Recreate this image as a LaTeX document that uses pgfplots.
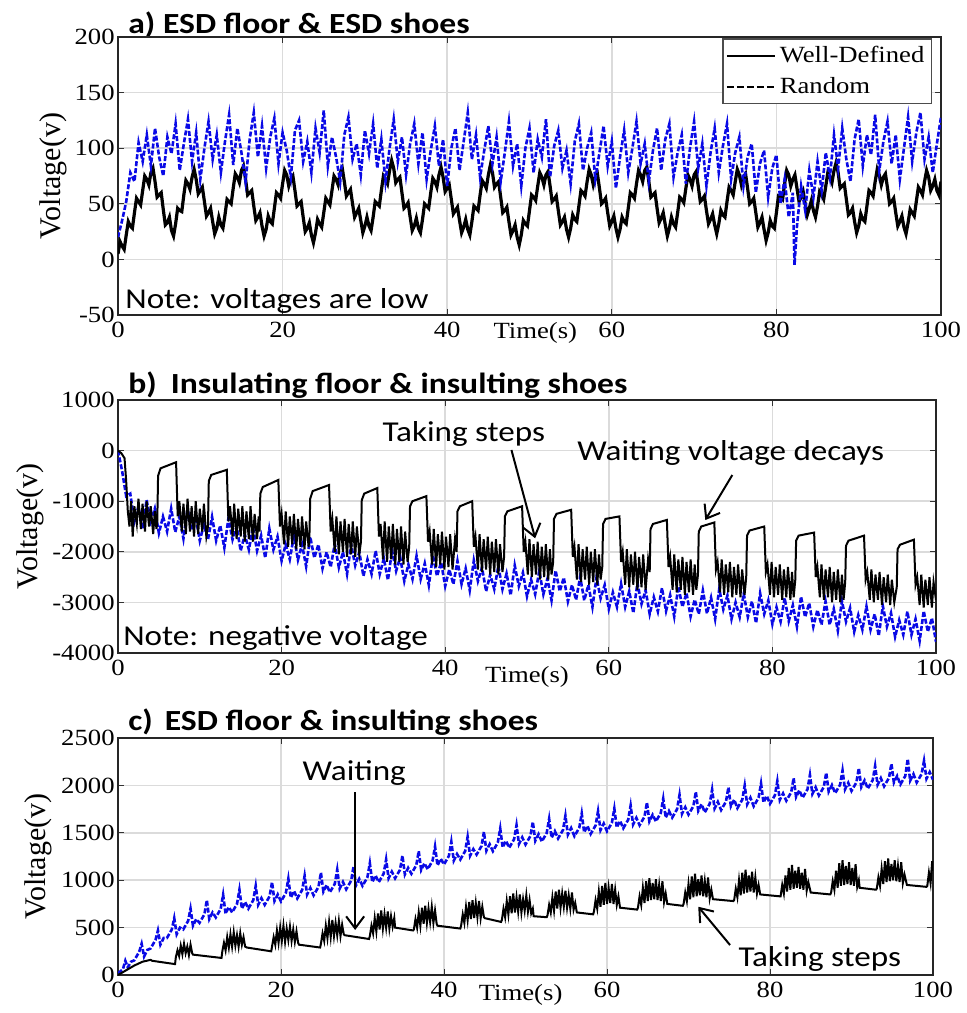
\documentclass[border=0pt]{standalone}
\usepackage{fontspec}
\setmainfont{Liberation Serif}[FakeStretch=1.15]
\newfontfamily\ylfont{Liberation Serif}
\newfontfamily\calfont{Carlito}[FakeStretch=1.15]
\usepackage{pgfplots}
\pgfplotsset{compat=1.18}
\usetikzlibrary{arrows.meta}
\definecolor{mblue}{RGB}{10,10,230}
\pgfplotsset{
  panel/.style={
    scale only axis,
    xmin=0, xmax=100, xtick={0,20,...,100},
    grid=major, grid style={gray!28, line width=0.8pt},
    axis line style={line width=0.7pt, gray!30!black},
    tick align=inside, major tick length=3pt,
    tick style={gray!40!black, line width=0.5pt},
    tick label style={font=\fontsize{11.6}{12}\selectfont},
    yticklabel style={inner xsep=1.5pt},
    /pgf/number format/assume math mode=true,
    /pgf/number format/1000 sep={},
    xlabel={Time(s)},
    xlabel style={font=\fontsize{11.6}{12}\selectfont},
    ylabel={Voltage(v)},
    ylabel style={font=\ylfont\fontsize{15}{15}\selectfont},
  },
}
\tikzset{
  annot/.style={font=\calfont\fontsize{14.4}{15}\selectfont, inner sep=0pt, anchor=base west},
  arr/.style={-{Straight Barb[length=6pt,width=9pt]}, line width=1pt, black},
}
\begin{document}
\begin{tikzpicture}
\useasboundingbox (0,0) rectangle (483.5pt,-506.5pt);
% titles
\node[font=\calfont\bfseries\fontsize{14.6}{15}\selectfont, inner sep=0pt, anchor=base west] at (64pt,-16.5pt) {a) ESD floor \& ESD shoes};
\node[font=\calfont\bfseries\fontsize{14.6}{15}\selectfont, inner sep=0pt, anchor=base west] at (64pt,-196.5pt) {b)\hspace{7pt}Insulating floor \& insulting shoes};
\node[font=\calfont\bfseries\fontsize{14.6}{15}\selectfont, inner sep=0pt, anchor=base west] at (64pt,-365pt) {c)\hspace{6pt}ESD floor \& insulting shoes};

% ---------------- panel a ----------------
\begin{axis}[panel, at={(59pt,-18.5pt)}, anchor=north west,
  width=411.5pt, height=139pt,
  ymin=-50, ymax=200, ytick={-50,0,...,200},
  xlabel style={at={(rel axis cs:0.507,0)}, anchor=center, yshift=-9pt},
  ylabel style={at={(rel axis cs:0,0.5)}, anchor=center, yshift=32.5pt},
  legend style={at={(rel axis cs:0.989,0.995)}, anchor=north east, draw=gray!60!black, line width=0.6pt, fill=white, font=\fontsize{11.6}{13}\selectfont, inner sep=1.5pt, row sep=2pt, cells={anchor=west}},
  legend image code/.code={\draw[#1, line width=0.9pt] (0pt,0pt) -- (24pt,0pt);},
]
\addplot[black, line width=1.6pt, forget plot] coordinates {
(0,5)(0.25,16)(0.5,12)(0.75,9)(1,22)(1.25,34)(1.5,30)(1.75,28)(2,42)(2.25,55)(2.5,52)(2.75,49)(3,62)(3.25,75)(3.5,72)(3.75,67)(4,78)(4.25,82)(4.5,70)(4.75,56)(5,58)(5.25,60)(5.5,45)(5.75,31)(6,33)(6.25,38)(6.5,26)(6.75,21)(7,32)(7.25,46)(7.5,44)(7.75,43)(8,58)(8.25,71)(8.5,68)(8.75,63)(9,74)(9.25,81)(9.5,72)(9.75,59)(10,62)(10.25,65)(10.5,52)(10.75,39)(11,42)(11.25,46)(11.5,34)(11.75,23)(12,28)(12.25,38)(12.5,31)(12.75,28)(13,40)(13.25,54)(13.5,52)(13.75,50)(14,64)(14.25,77)(14.5,74)(14.75,69)(15,80)(15.25,84)(15.5,72)(15.75,58)(16,60)(16.25,62)(16.5,48)(16.75,35)(17,38)(17.25,42)(17.5,30)(17.75,21)(18,27)(18.25,39)(18.5,34)(18.75,32)(19,46)(19.25,60)(19.5,58)(19.75,55)(20,68)(20.25,80)(20.5,76)(20.75,66)(21,72)(21.25,75)(21.5,62)(21.75,48)(22,50)(22.25,52)(22.5,38)(22.75,25)(23,28)(23.25,33)(23.5,22)(23.75,15)(24,24)(24.25,36)(24.5,32)(24.75,29)(25,42)(25.25,55)(25.5,52)(25.75,49)(26,62)(26.25,75)(26.5,72)(26.75,67)(27,78)(27.25,82)(27.5,70)(27.75,57)(28,60)(28.25,63)(28.5,50)(28.75,38)(29,42)(29.25,46)(29.5,35)(29.75,24)(30,30)(30.25,38)(30.5,30)(30.75,26)(31,38)(31.25,52)(31.5,50)(31.75,48)(32,62)(32.25,75)(32.5,72)(32.75,68)(33,80)(33.25,89)(33.5,82)(33.75,69)(34,72)(34.25,74)(34.5,60)(34.75,46)(35,48)(35.25,51)(35.5,38)(35.75,26)(36,30)(36.25,37)(36.5,28)(36.75,24)(37,36)(37.25,50)(37.5,48)(37.75,46)(38,60)(38.25,73)(38.5,70)(38.75,65)(39,76)(39.25,83)(39.5,74)(39.75,61)(40,64)(40.25,67)(40.5,54)(40.75,41)(41,44)(41.25,47)(41.5,35)(41.75,24)(42,29)(42.25,36)(42.5,27)(42.75,22)(43,34)(43.25,48)(43.5,46)(43.75,44)(44,58)(44.25,71)(44.5,68)(44.75,64)(45,76)(45.25,85)(45.5,78)(45.75,65)(46,68)(46.25,70)(46.5,56)(46.75,42)(47,44)(47.25,47)(47.5,34)(47.75,22)(48,26)(48.25,31)(48.5,20)(48.75,13)(49,22)(49.25,35)(49.5,32)(49.75,30)(50,44)(50.25,58)(50.5,56)(50.75,53)(51,66)(51.25,78)(51.5,74)(51.75,67)(52,76)(52.25,79)(52.5,66)(52.75,52)(53,54)(53.25,57)(53.5,44)(53.75,31)(54,34)(54.25,38)(54.5,27)(54.75,20)(55,28)(55.25,40)(55.5,36)(55.75,34)(56,48)(56.25,62)(56.5,60)(56.75,57)(57,70)(57.25,81)(57.5,76)(57.75,67)(58,74)(58.25,77)(58.5,64)(58.75,50)(59,52)(59.25,55)(59.5,42)(59.75,30)(60,34)(60.25,39)(60.5,28)(60.75,20)(61,27)(61.25,38)(61.5,34)(61.75,32)(62,46)(62.25,60)(62.5,58)(62.75,55)(63,68)(63.25,80)(63.5,76)(63.75,70)(64,80)(64.25,83)(64.5,70)(64.75,56)(65,58)(65.25,60)(65.5,46)(65.75,33)(66,37)(66.25,42)(66.5,31)(66.75,21)(67,28)(67.25,38)(67.5,32)(67.75,29)(68,42)(68.25,56)(68.5,54)(68.75,51)(69,64)(69.25,76)(69.5,72)(69.75,66)(70,76)(70.25,79)(70.5,66)(70.75,52)(71,54)(71.25,57)(71.5,44)(71.75,32)(72,36)(72.25,41)(72.5,31)(72.75,23)(73,32)(73.25,44)(73.5,40)(73.75,38)(74,52)(74.25,65)(74.5,62)(74.75,58)(75,70)(75.25,81)(75.5,76)(75.75,67)(76,74)(76.25,77)(76.5,64)(76.75,50)(77,52)(77.25,55)(77.5,42)(77.75,29)(78,33)(78.25,38)(78.5,27)(78.75,17)(79,24)(79.25,35)(79.5,30)(79.75,28)(80,42)(80.25,57)(80.5,56)(80.75,54)(81,68)(81.25,80)(81.5,76)(81.75,66)(82,72)(82.25,76)(82.5,64)(82.75,52)(83,56)(83.25,61)(83.5,50)(83.75,40)(84,46)(84.25,53)(84.5,44)(84.75,38)(85,48)(85.25,61)(85.5,58)(85.75,54)(86,66)(86.25,78)(86.5,74)(86.75,69)(87,80)(87.25,87)(87.5,78)(87.75,64)(88,66)(88.25,68)(88.5,54)(88.75,40)(89,42)(89.25,46)(89.5,34)(89.75,24)(90,30)(90.25,41)(90.5,36)(90.75,34)(91,48)(91.25,62)(91.5,60)(91.75,57)(92,70)(92.25,81)(92.5,76)(92.75,67)(93,74)(93.25,77)(93.5,64)(93.75,50)(94,52)(94.25,55)(94.5,42)(94.75,30)(95,34)(95.25,39)(95.5,29)(95.75,23)(96,33)(96.25,45)(96.5,42)(96.75,39)(97,52)(97.25,65)(97.5,62)(97.75,58)(98,70)(98.25,80)(98.5,74)(98.75,62)(99,66)(99.25,72)(99.5,62)(99.75,58)(100,70)
};
\addplot[mblue, line width=1.3pt, dash pattern=on 2.5pt off 1pt, forget plot] coordinates {
(0,20)(0.5,35)(1,52)(1.5,78)(2,70)(2.5,105)(3,88)(3.5,112)(4,84)(4.5,118)(5,92)(5.5,75)(6,110)(6.5,95)(7,122)(7.5,80)(8,104)(8.5,126)(9,88)(9.5,114)(10,72)(10.5,100)(11,124)(11.5,90)(12,112)(12.5,78)(13,106)(13.5,130)(14,85)(14.5,118)(15,96)(15.5,70)(16,108)(16.5,132)(17,92)(17.5,120)(18,82)(18.5,110)(19,127)(19.5,86)(20,114)(20.5,98)(21,74)(21.5,116)(22,125)(22.5,88)(23,106)(23.5,78)(24,118)(24.5,96)(25,134)(25.5,84)(26,110)(26.5,92)(27,70)(27.5,112)(28,128)(28.5,90)(29,104)(29.5,76)(30,116)(30.5,95)(31,122)(31.5,82)(32,108)(32.5,70)(33,100)(33.5,126)(34,88)(34.5,110)(35,76)(35.5,104)(36,122)(36.5,86)(37,114)(37.5,72)(38,98)(38.5,120)(39,84)(39.5,108)(40,66)(40.5,100)(41,118)(41.5,80)(42,106)(42.5,132)(43,90)(43.5,112)(44,74)(44.5,98)(45,120)(45.5,86)(46,110)(46.5,70)(47,96)(47.5,124)(48,84)(48.5,104)(49,66)(49.5,100)(50,118)(50.5,78)(51,108)(51.5,92)(52,126)(52.5,74)(53,102)(53.5,116)(54,82)(54.5,98)(55,68)(55.5,106)(56,122)(56.5,80)(57,100)(57.5,114)(58,72)(58.5,96)(59,120)(59.5,84)(60,106)(60.5,64)(61,92)(61.5,116)(62,78)(62.5,100)(63,124)(63.5,86)(64,104)(64.5,70)(65,98)(65.5,118)(66,80)(66.5,108)(67,122)(67.5,74)(68,96)(68.5,112)(69,68)(69.5,100)(70,124)(70.5,82)(71,104)(71.5,66)(72,96)(72.5,118)(73,78)(73.5,102)(74,122)(74.5,72)(75,96)(75.5,110)(76,66)(76.5,92)(77,104)(77.5,60)(78,86)(78.5,98)(79,56)(79.5,82)(80,94)(80.5,50)(81,72)(81.5,38)(82,60)(82.2,-5)(82.5,30)(83,66)(83.5,44)(84,80)(84.5,56)(85,88)(85.5,62)(86,96)(86.5,74)(87,112)(87.5,82)(88,118)(88.5,90)(89,70)(89.5,108)(90,126)(90.5,84)(91,112)(91.5,94)(92,130)(92.5,80)(93,106)(93.5,124)(94,86)(94.5,112)(95,72)(95.5,100)(96,128)(96.5,88)(97,114)(97.5,132)(98,90)(98.5,110)(99,78)(99.5,104)(100,128)
};
\addlegendimage{black, solid}
\addlegendentry{Well-Defined}
\addlegendimage{black, dash pattern=on 3.5pt off 1.5pt}
\addlegendentry{Random}
\node[annot] at (axis cs:0.85,-43.7) {Note: voltages are low};
\end{axis}

% ---------------- panel b ----------------
\begin{axis}[panel, at={(59pt,-200pt)}, anchor=north west,
  width=409pt, height=126.5pt,
  ymin=-4000, ymax=1000, ytick={-4000,-3000,...,1000},
  xlabel style={at={(rel axis cs:0.5,0)}, anchor=center, yshift=-12pt},
  ylabel style={at={(rel axis cs:0,0.5)}, anchor=center, yshift=44pt},
]
\addplot[mblue, line width=1.3pt, dash pattern=on 2.5pt off 1pt] coordinates {
(0,0)(0.5,-400)(1,-900)(1.5,-850)(2,-1400)(2.5,-1105)(3,-1550)(3.5,-975)(4,-1400)(4.5,-1145)(5,-1630)(5.5,-1305)(6,-1600)(6.5,-1145)(7,-1610)(7.5,-1305)(8,-1740)(8.5,-1155)(9,-1570)(9.5,-1305)(10,-1780)(10.5,-1460)(11,-1760)(11.5,-1310)(12,-1780)(12.5,-1480)(13,-1920)(13.5,-1340)(14,-1760)(14.5,-1500)(15,-1980)(15.5,-1660)(16,-1960)(16.5,-1510)(17,-1980)(17.5,-1680)(18,-2120)(18.5,-1540)(19,-1960)(19.5,-1700)(20,-2180)(20.5,-1855)(21,-2150)(21.5,-1695)(22,-2160)(22.5,-1855)(23,-2290)(23.5,-1705)(24,-2120)(24.5,-1855)(25,-2330)(25.5,-2005)(26,-2300)(26.5,-1845)(27,-2310)(27.5,-2005)(28,-2440)(28.5,-1855)(29,-2270)(29.5,-2005)(30,-2480)(30.5,-2150)(31,-2440)(31.5,-1980)(32,-2440)(32.5,-2130)(33,-2560)(33.5,-1970)(34,-2380)(34.5,-2110)(35,-2580)(35.5,-2250)(36,-2540)(36.5,-2080)(37,-2540)(37.5,-2230)(38,-2660)(38.5,-2070)(39,-2480)(39.5,-2210)(40,-2680)(40.5,-2350)(41,-2640)(41.5,-2180)(42,-2640)(42.5,-2330)(43,-2760)(43.5,-2170)(44,-2580)(44.5,-2310)(45,-2780)(45.5,-2450)(46,-2740)(46.5,-2280)(47,-2740)(47.5,-2430)(48,-2860)(48.5,-2270)(49,-2680)(49.5,-2410)(50,-2880)(50.5,-2550)(51,-2840)(51.5,-2380)(52,-2840)(52.5,-2530)(53,-2960)(53.5,-2370)(54,-2780)(54.5,-2510)(55,-2980)(55.5,-2655)(56,-2950)(56.5,-2495)(57,-2960)(57.5,-2655)(58,-3090)(58.5,-2505)(59,-2920)(59.5,-2655)(60,-3130)(60.5,-2800)(61,-3090)(61.5,-2630)(62,-3090)(62.5,-2780)(63,-3210)(63.5,-2620)(64,-3030)(64.5,-2760)(65,-3230)(65.5,-2895)(66,-3180)(66.5,-2715)(67,-3170)(67.5,-2855)(68,-3280)(68.5,-2685)(69,-3090)(69.5,-2815)(70,-3280)(70.5,-2945)(71,-3230)(71.5,-2765)(72,-3220)(72.5,-2905)(73,-3330)(73.5,-2735)(74,-3140)(74.5,-2865)(75,-3330)(75.5,-3000)(76,-3290)(76.5,-2830)(77,-3290)(77.5,-2980)(78,-3410)(78.5,-2820)(79,-3230)(79.5,-2960)(80,-3430)(80.5,-3095)(81,-3380)(81.5,-2915)(82,-3370)(82.5,-3055)(83,-3480)(83.5,-2885)(84,-3290)(84.5,-3015)(85,-3480)(85.5,-3150)(86,-3440)(86.5,-2980)(87,-3440)(87.5,-3130)(88,-3560)(88.5,-2970)(89,-3380)(89.5,-3110)(90,-3580)(90.5,-3250)(91,-3540)(91.5,-3080)(92,-3540)(92.5,-3230)(93,-3660)(93.5,-3070)(94,-3480)(94.5,-3210)(95,-3680)(95.5,-3350)(96,-3640)(96.5,-3180)(97,-3640)(97.5,-3330)(98,-3760)(98.5,-3170)(99,-3580)(99.5,-3310)(100,-3780)
};
\addplot[black, line width=1pt] coordinates {
(0,0)(0.4,-50)(0.8,-150)(1.0,-600)(1.2,-1200)(1.4,-1500)(1.6,-1000)(1.8,-1700)(2.0,-1100)(2.3,-1450)(2.5,-950)(2.8,-1550)(3.0,-1050)(3.3,-1600)(3.5,-1000)(3.8,-1500)(4.0,-1100)(4.3,-1650)(4.5,-1200)(4.7,-1550)
(4.8,-1400)(4.9,-500)(5.2,-350)(7.1,-230)(7.3,-1300)
(7.5,-1000)(7.8,-1600)(8.0,-1050)(8.3,-1650)(8.5,-950)(8.8,-1600)(9.0,-1100)(9.3,-1700)(9.5,-1000)(9.8,-1650)(10.0,-1150)(10.3,-1600)(10.5,-1050)(10.8,-1700)
(11.0,-1500)(11.1,-600)(11.4,-480)(13.3,-380)(13.5,-1400)
(13.7,-1100)(14.0,-1700)(14.2,-1050)(14.5,-1750)(14.7,-1150)(15.0,-1700)(15.2,-1100)(15.5,-1800)(15.7,-1200)(16.0,-1750)(16.2,-1100)(16.5,-1800)(16.7,-1250)(17.0,-1750)(17.2,-1300)
(17.3,-1600)(17.4,-850)(17.7,-720)(19.6,-580)(19.8,-1500)
(20.0,-1250)(20.3,-1850)(20.5,-1200)(20.8,-1900)(21.0,-1300)(21.3,-1850)(21.5,-1250)(21.8,-1950)(22.0,-1350)(22.3,-1900)(22.5,-1300)(22.8,-1950)(23.0,-1400)(23.3,-1900)
(23.4,-1700)(23.5,-950)(23.8,-800)(25.8,-680)(26.0,-1600)
(26.2,-1350)(26.5,-2000)(26.7,-1300)(27.0,-2050)(27.2,-1400)(27.5,-2000)(27.7,-1350)(28.0,-2100)(28.2,-1450)(28.5,-2050)(28.7,-1400)(29.0,-2100)(29.2,-1500)(29.5,-2050)
(29.7,-1800)(29.8,-980)(30.1,-850)(31.7,-740)(31.9,-1700)
(32.1,-1450)(32.4,-2150)(32.6,-1400)(32.9,-2200)(33.1,-1500)(33.4,-2150)(33.6,-1450)(33.9,-2250)(34.1,-1550)(34.4,-2200)(34.6,-1500)(34.9,-2250)(35.1,-1600)(35.4,-2200)
(35.6,-1900)(35.7,-1100)(36.0,-1000)(37.7,-900)(37.9,-1800)
(38.1,-1600)(38.4,-2250)(38.6,-1550)(38.9,-2300)(39.1,-1650)(39.4,-2250)(39.6,-1600)(39.9,-2350)(40.1,-1700)(40.4,-2300)(40.6,-1650)(40.9,-2350)(41.2,-1750)
(41.4,-2000)(41.5,-1200)(41.8,-1100)(43.3,-1000)(43.5,-1900)
(43.7,-1700)(44.0,-2350)(44.2,-1650)(44.5,-2400)(44.7,-1750)(45.0,-2350)(45.2,-1700)(45.5,-2450)(45.7,-1800)(46.0,-2400)(46.2,-1750)(46.5,-2450)(46.7,-1850)(47.0,-2400)
(47.2,-2100)(47.3,-1300)(47.6,-1200)(49.4,-1100)(49.6,-2000)
(49.8,-1800)(50.1,-2450)(50.3,-1750)(50.6,-2500)(50.8,-1850)(51.1,-2450)(51.3,-1800)(51.6,-2550)(51.8,-1900)(52.1,-2500)(52.3,-1850)(52.6,-2550)(52.8,-1950)(53.0,-2450)
(53.2,-2200)(53.3,-1350)(53.6,-1250)(55.4,-1170)(55.6,-2100)
(55.8,-1900)(56.1,-2550)(56.3,-1850)(56.6,-2600)(56.8,-1950)(57.1,-2550)(57.3,-1900)(57.6,-2650)(57.8,-2000)(58.1,-2600)(58.3,-1950)(58.6,-2650)(58.8,-2050)(59.0,-2550)
(59.2,-2300)(59.3,-1450)(59.6,-1350)(61.3,-1300)(61.5,-2200)
(61.7,-2000)(62.0,-2650)(62.2,-1950)(62.5,-2700)(62.7,-2050)(63.0,-2650)(63.2,-2000)(63.5,-2750)(63.7,-2100)(64.0,-2700)(64.2,-2050)(64.5,-2750)(64.8,-2150)
(65.0,-2400)(65.1,-1550)(65.4,-1450)(67.1,-1370)(67.3,-2300)
(67.5,-2100)(67.8,-2750)(68.0,-2050)(68.3,-2800)(68.5,-2150)(68.8,-2750)(69.0,-2100)(69.3,-2850)(69.5,-2200)(69.8,-2800)(70.0,-2150)(70.3,-2850)(70.5,-2250)(70.7,-2750)
(70.9,-2450)(71.0,-1600)(71.3,-1500)(72.9,-1420)(73.1,-2350)
(73.3,-2200)(73.6,-2800)(73.8,-2150)(74.1,-2850)(74.3,-2250)(74.6,-2800)(74.8,-2200)(75.1,-2900)(75.3,-2300)(75.6,-2850)(75.8,-2250)(76.1,-2900)(76.3,-2350)(76.6,-2850)
(76.8,-2500)(76.9,-1680)(77.2,-1580)(79.0,-1500)(79.2,-2400)
(79.4,-2250)(79.7,-2850)(79.9,-2200)(80.2,-2900)(80.4,-2300)(80.7,-2850)(80.9,-2250)(81.2,-2950)(81.4,-2350)(81.7,-2900)(81.9,-2300)(82.2,-2950)(82.4,-2400)(82.6,-2900)
(82.8,-2550)(82.9,-1780)(83.2,-1680)(85.1,-1620)(85.3,-2500)
(85.5,-2300)(85.8,-2900)(86.0,-2250)(86.3,-2950)(86.5,-2350)(86.8,-2900)(87.0,-2300)(87.3,-3000)(87.5,-2400)(87.8,-2950)(88.0,-2350)(88.3,-3000)(88.5,-2450)(88.7,-2950)
(88.9,-2600)(89.0,-1880)(89.3,-1780)(91.2,-1680)(91.4,-2550)
(91.6,-2400)(91.9,-2950)(92.1,-2350)(92.4,-3000)(92.6,-2450)(92.9,-2950)(93.1,-2400)(93.4,-3050)(93.6,-2500)(93.9,-3000)(94.1,-2450)(94.4,-3050)(94.6,-2550)(94.9,-3000)
(95.2,-2700)(95.3,-1950)(95.6,-1860)(97.3,-1760)(97.5,-2650)
(97.7,-2500)(98.0,-3050)(98.2,-2450)(98.5,-3100)(98.7,-2550)(99.0,-3050)(99.2,-2500)(99.5,-3100)(99.7,-2600)(100,-2950)
};
\node[annot] at (axis cs:0.6,-3842) {Note: negative voltage};
\node[annot] at (axis cs:32.3,180) {Taking steps};
\node[annot] at (axis cs:56.1,-190) {Waiting voltage decays};
\draw[arr] (axis cs:48.1,12) -- (axis cs:51.0,-1733);
\draw[arr] (axis cs:75.1,-482) -- (axis cs:71.8,-1372);
\end{axis}

% ---------------- panel c ----------------
\begin{axis}[panel, at={(59pt,-369pt)}, anchor=north west,
  width=407.5pt, height=118.5pt,
  ymin=0, ymax=2500, ytick={0,500,...,2500},
  xlabel style={at={(rel axis cs:0.494,0)}, anchor=center, yshift=-10pt},
  ylabel style={at={(rel axis cs:0,0.5)}, anchor=center, yshift=40pt},
]
\addplot[mblue, line width=1.3pt, dash pattern=on 2.5pt off 1pt] coordinates {
(0,20)(0.6,60)(0.9,150)(1.2,80)(1.6,140)
(2,155)(2.6,245)(2.9,330)(3.2,195)(3.6,265)
(4,280)(4.6,370)(4.9,470)(5.2,320)(5.6,390)
(6,390)(6.6,480)(6.9,600)(7.2,430)(7.6,500)
(8,480)(8.6,570)(8.9,700)(9.2,520)(9.6,590)
(10,550)(10.6,640)(10.9,790)(11.2,590)(11.6,660)
(12,607)(12.6,697)(12.9,847)(13.2,647)(13.6,717)
(14,660)(14.6,750)(14.9,900)(15.2,700)(15.6,770)
(16,700)(16.6,790)(16.9,940)(17.2,740)(17.6,810)
(18,740)(18.6,830)(18.9,980)(19.2,780)(19.6,850)
(20,776)(20.6,866)(20.9,1016)(21.2,816)(21.6,886)
(22,808)(22.6,898)(22.9,1048)(23.2,848)(23.6,918)
(24,840)(24.6,930)(24.9,1080)(25.2,880)(25.6,950)
(26,872)(26.6,962)(26.9,1112)(27.2,912)(27.6,982)
(28,904)(28.6,994)(28.9,1144)(29.2,944)(29.6,1014)
(30,940)(30.6,1030)(30.9,1180)(31.2,980)(31.6,1050)
(32,980)(32.6,1070)(32.9,1220)(33.2,1020)(33.6,1090)
(34,1020)(34.6,1110)(34.9,1260)(35.2,1060)(35.6,1130)
(36,1068)(36.6,1158)(36.9,1308)(37.2,1108)(37.6,1178)
(38,1116)(38.6,1206)(38.9,1356)(39.2,1156)(39.6,1226)
(40,1166)(40.6,1256)(40.9,1406)(41.2,1206)(41.6,1276)
(42,1218)(42.6,1308)(42.9,1458)(43.2,1258)(43.6,1328)
(44,1270)(44.6,1360)(44.9,1510)(45.2,1310)(45.6,1380)
(46,1306)(46.6,1396)(46.9,1546)(47.2,1346)(47.6,1416)
(48,1342)(48.6,1432)(48.9,1582)(49.2,1382)(49.6,1452)
(50,1376)(50.6,1466)(50.9,1616)(51.2,1416)(51.6,1486)
(52,1408)(52.6,1498)(52.9,1648)(53.2,1448)(53.6,1518)
(54,1440)(54.6,1530)(54.9,1680)(55.2,1480)(55.6,1550)
(56,1464)(56.6,1554)(56.9,1704)(57.2,1504)(57.6,1574)
(58,1488)(58.6,1578)(58.9,1728)(59.2,1528)(59.6,1598)
(60,1516)(60.6,1606)(60.9,1756)(61.2,1556)(61.6,1626)
(62,1548)(62.6,1638)(62.9,1788)(63.2,1588)(63.6,1658)
(64,1580)(64.6,1670)(64.9,1820)(65.2,1620)(65.6,1690)
(66,1620)(66.6,1710)(66.9,1860)(67.2,1660)(67.6,1730)
(68,1660)(68.6,1750)(68.9,1900)(69.2,1700)(69.6,1770)
(70,1692)(70.6,1782)(70.9,1932)(71.2,1732)(71.6,1802)
(72,1716)(72.6,1806)(72.9,1956)(73.2,1756)(73.6,1826)
(74,1740)(74.6,1830)(74.9,1980)(75.2,1780)(75.6,1850)
(76,1760)(76.6,1850)(76.9,2000)(77.2,1800)(77.6,1870)
(78,1780)(78.6,1870)(78.9,2020)(79.2,1820)(79.6,1890)
(80,1806)(80.6,1896)(80.9,2046)(81.2,1846)(81.6,1916)
(82,1838)(82.6,1928)(82.9,2078)(83.2,1878)(83.6,1948)
(84,1870)(84.6,1960)(84.9,2110)(85.2,1910)(85.6,1980)
(86,1894)(86.6,1984)(86.9,2134)(87.2,1934)(87.6,2004)
(88,1918)(88.6,2008)(88.9,2158)(89.2,1958)(89.6,2028)
(90,1942)(90.6,2032)(90.9,2182)(91.2,1982)(91.6,2052)
(92,1966)(92.6,2056)(92.9,2206)(93.2,2006)(93.6,2076)
(94,1990)(94.6,2080)(94.9,2230)(95.2,2030)(95.6,2100)
(96,2010)(96.6,2100)(96.9,2280)(97.2,2050)(97.6,2120)
(98,2030)(98.6,2120)(98.9,2260)(99.2,2070)(99.6,2140)(100,2060)
};
\addplot[black, line width=1pt] coordinates {
(0,0)(1,50)(2,100)(3,140)(4,160)(4.2,150)(7.0,115)
(7.1,190)(7.3,260)(7.5,200)(7.7,310)(7.9,220)(8.1,330)(8.3,230)(8.5,300)(8.7,210)(8.9,320)(9.1,230)(9.2,215)
(12.7,180)
(12.8,250)(13.0,340)(13.2,260)(13.4,400)(13.6,290)(13.8,430)(14.0,300)(14.2,450)(14.4,310)(14.6,420)(14.8,300)(15.0,440)(15.2,320)(15.4,400)(15.6,300)(15.8,290)
(18.8,250)
(18.9,300)(19.1,400)(19.3,320)(19.5,470)(19.7,340)(19.9,500)(20.1,360)(20.3,520)(20.5,350)(20.7,490)(20.9,370)(21.1,510)(21.3,360)(21.5,480)(21.7,350)(21.9,460)(22.1,340)(22.2,320)
(24.8,290)
(24.9,330)(25.1,440)(25.3,360)(25.5,520)(25.7,390)(25.9,560)(26.1,400)(26.3,580)(26.5,410)(26.7,550)(26.9,420)(27.1,570)(27.3,410)(27.5,530)(27.7,430)(27.8,420)
(30.8,380)
(30.9,410)(31.1,520)(31.3,440)(31.5,600)(31.7,460)(31.9,650)(32.1,480)(32.3,680)(32.5,490)(32.7,640)(32.9,500)(33.1,670)(33.3,490)(33.5,620)(33.7,510)(33.9,600)(34.0,500)
(36.2,470)
(36.3,480)(36.5,590)(36.7,500)(36.9,660)(37.1,520)(37.3,710)(37.5,540)(37.7,730)(37.9,550)(38.1,700)(38.3,560)(38.5,720)(38.7,550)(38.9,680)(39.1,540)(39.2,520)
(42.0,490)
(42.1,520)(42.3,640)(42.5,550)(42.7,720)(42.9,580)(43.1,770)(43.3,590)(43.5,790)(43.7,600)(43.9,760)(44.1,610)(44.3,780)(44.5,600)(44.7,720)(44.9,610)(45.0,600)
(47.0,560)
(47.1,580)(47.3,700)(47.5,610)(47.7,780)(47.9,640)(48.1,830)(48.3,650)(48.5,860)(48.7,660)(48.9,820)(49.1,670)(49.3,850)(49.5,660)(49.7,800)(49.9,680)(50.1,840)(50.3,670)(50.5,790)(50.7,650)(50.9,700)(51.0,620)
(52.6,610)
(52.7,630)(52.9,740)(53.1,660)(53.3,820)(53.5,680)(53.7,880)(53.9,700)(54.1,900)(54.3,710)(54.5,860)(54.7,720)(54.9,890)(55.1,710)(55.3,840)(55.5,700)(55.7,870)(55.9,690)(56.1,760)(56.3,660)
(58.3,640)
(58.4,670)(58.6,790)(58.8,700)(59.0,880)(59.2,720)(59.4,940)(59.6,740)(59.8,970)(60.0,750)(60.2,920)(60.4,760)(60.6,960)(60.8,750)(61.0,900)(61.2,740)(61.4,830)(61.6,710)
(63.7,690)
(63.8,710)(64.0,830)(64.2,740)(64.4,920)(64.6,760)(64.8,990)(65.0,780)(65.2,1020)(65.4,790)(65.6,970)(65.8,800)(66.0,1010)(66.2,790)(66.4,950)(66.6,780)(66.8,990)(67.0,770)(67.2,860)(67.4,750)
(69.3,730)
(69.4,750)(69.6,870)(69.8,780)(70.0,960)(70.2,800)(70.4,1040)(70.6,820)(70.8,1070)(71.0,830)(71.2,1010)(71.4,840)(71.6,1050)(71.8,830)(72.0,990)(72.2,820)(72.4,1030)(72.6,810)(72.8,900)(73.0,800)
(75.5,780)
(75.6,790)(75.8,910)(76.0,820)(76.2,1000)(76.4,840)(76.6,1080)(76.8,860)(77.0,1110)(77.2,870)(77.4,1050)(77.6,880)(77.8,1090)(78.0,870)(78.2,1030)(78.4,860)(78.6,950)(78.8,850)
(81.2,830)
(81.3,830)(81.5,950)(81.7,860)(81.9,1050)(82.1,880)(82.3,1130)(82.5,900)(82.7,1160)(82.9,910)(83.1,1100)(83.3,920)(83.5,1140)(83.7,910)(83.9,1080)(84.1,900)(84.3,1120)(84.5,890)(84.7,980)(85.0,870)
(87.4,850)
(87.5,870)(87.7,990)(87.9,900)(88.1,1100)(88.3,920)(88.5,1180)(88.7,940)(88.9,1210)(89.1,950)(89.3,1150)(89.5,960)(89.7,1190)(89.9,950)(90.1,1130)(90.3,940)(90.5,1170)(90.7,930)(90.9,1000)(91.0,920)
(93.0,900)
(93.1,910)(93.3,1030)(93.5,940)(93.7,1120)(93.9,960)(94.1,1200)(94.3,980)(94.5,1230)(94.7,990)(94.9,1170)(95.1,1000)(95.3,1210)(95.5,990)(95.7,1150)(95.9,980)(96.1,1190)(96.3,970)(96.5,1060)(96.8,950)
(99.2,930)
(99.3,940)(99.5,1080)(99.7,970)(99.9,1200)(100,1100)
};
\node[annot] at (axis cs:22.6,2057) {Waiting};
\node[annot] at (axis cs:76.1,88) {Taking steps};
\draw[arr] (axis cs:29.1,1930) -- (axis cs:29.1,475);
\draw[arr] (axis cs:75.1,316) -- (axis cs:71.2,720);
\end{axis}
\end{tikzpicture}
\end{document}
